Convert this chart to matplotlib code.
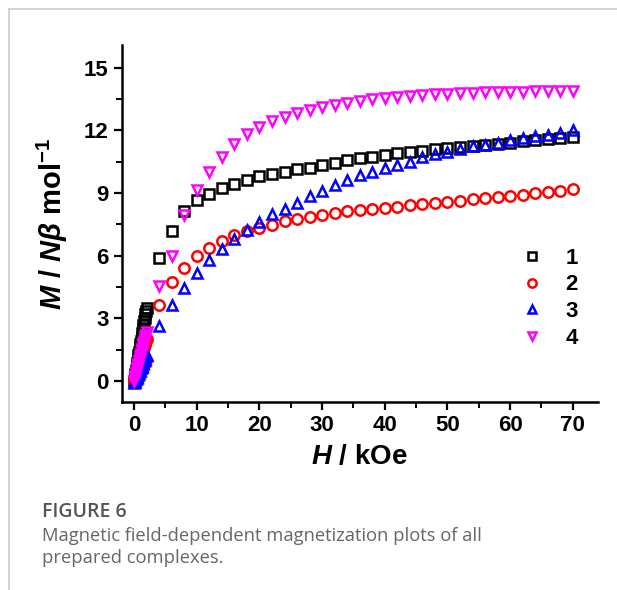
import matplotlib.pyplot as plt
from matplotlib.ticker import MultipleLocator
from matplotlib.lines import Line2D

plt.rcParams['font.family'] = ['Liberation Sans', 'DejaVu Sans']
plt.rcParams['mathtext.fontset'] = 'custom'
plt.rcParams['mathtext.rm'] = 'Liberation Sans:bold'
plt.rcParams['mathtext.it'] = 'Liberation Sans:bold:italic'
plt.rcParams['mathtext.bf'] = 'Liberation Sans:bold'

##  field values (kOe): dense low-field part, then every 2 kOe
h_low = [0, 0.1, 0.2, 0.3, 0.4, 0.5, 0.6, 0.7, 0.8, 0.9, 1.0,
         1.1, 1.2, 1.3, 1.4, 1.5, 1.6, 1.7, 1.8, 1.9, 2.0]
h_high = [4, 6, 8, 10, 12, 14, 16, 18, 20, 22, 24, 26, 28, 30, 32, 34, 36,
          38, 40, 42, 44, 46, 48, 50, 52, 54, 56, 58, 60, 62, 64, 66, 68, 70]

m1_low = [0, 0.18, 0.35, 0.53, 0.7, 0.88, 1.05, 1.23, 1.4, 1.58, 1.75,
          1.93, 2.1, 2.3, 2.5, 2.68, 2.85, 3.03, 3.2, 3.35, 3.5]
m1_high = [5.9, 7.17, 8.12, 8.65, 8.97, 9.25, 9.45, 9.64, 9.8, 9.91, 10.0,
           10.15, 10.22, 10.35, 10.43, 10.56, 10.67, 10.75, 10.83, 10.9, 10.97,
           11.03, 11.09, 11.15, 11.2, 11.25, 11.3, 11.36, 11.42, 11.47, 11.53,
           11.58, 11.64, 11.7]

m2_low = [0, 0.1, 0.2, 0.3, 0.4, 0.5, 0.6, 0.7, 0.8, 0.9, 1.0,
          1.1, 1.2, 1.3, 1.4, 1.5, 1.6, 1.7, 1.8, 1.9, 2.0]
m2_high = [3.62, 4.72, 5.42, 5.97, 6.37, 6.72, 7.0, 7.18, 7.33, 7.49, 7.65,
           7.76, 7.85, 7.96, 8.04, 8.12, 8.18, 8.24, 8.29, 8.35, 8.41, 8.47,
           8.53, 8.58, 8.64, 8.7, 8.76, 8.82, 8.87, 8.93, 8.99, 9.05, 9.11, 9.17]

m3_low = [-0.1, -0.04, 0.02, 0.08, 0.14, 0.2, 0.27, 0.33, 0.4, 0.46, 0.53,
          0.6, 0.66, 0.73, 0.8, 0.88, 0.95, 1.02, 1.1, 1.17, 1.25]
m3_high = [2.65, 3.66, 4.46, 5.18, 5.81, 6.33, 6.8, 7.22, 7.6, 8.01, 8.24,
           8.52, 8.84, 9.08, 9.39, 9.64, 9.87, 10.03, 10.2, 10.35, 10.51,
           10.72, 10.88, 10.99, 11.1, 11.23, 11.31, 11.42, 11.55, 11.63, 11.71,
           11.79, 11.9, 12.03]

m4_low = [0, 0.12, 0.25, 0.37, 0.5, 0.61, 0.72, 0.83, 0.95, 1.07, 1.2,
          1.31, 1.42, 1.53, 1.65, 1.76, 1.87, 1.98, 2.1, 2.22, 2.35]
m4_high = [4.54, 5.97, 7.96, 9.16, 10.03, 10.75, 11.36, 11.83, 12.15, 12.46,
           12.66, 12.85, 13.0, 13.14, 13.22, 13.33, 13.42, 13.5, 13.57, 13.62,
           13.66, 13.7, 13.73, 13.76, 13.78, 13.8, 13.82, 13.83, 13.85, 13.86,
           13.87, 13.88, 13.89, 13.9]

labels = ['1', '2', '3', '4']
colors = ['black', 'red', 'blue', 'magenta']
markers = ['s', 'o', '^', 'v']

fig = plt.figure(figsize=(6.17, 5.90), dpi=100)
ax = fig.add_axes([0.197, 0.319, 0.772, 0.605])

all_low = [m1_low, m2_low, m3_low, m4_low]
all_high = [m1_high, m2_high, m3_high, m4_high]
handles = []
for lo, hi, c, mk, lab in zip(all_low, all_high, colors, markers, labels):
    ax.plot(h_low + h_high, lo + hi, linestyle='none', marker=mk, markersize=7.5,
            markerfacecolor='none', markeredgecolor=c, markeredgewidth=1.8)
    handles.append(Line2D([], [], linestyle='none', marker=mk, markersize=6,
                          markerfacecolor='none', markeredgecolor=c,
                          markeredgewidth=1.8, label=lab))

ax.set_xlim(-2, 74)
ax.set_ylim(-1, 16.1)
ax.xaxis.set_major_locator(MultipleLocator(10))
ax.xaxis.set_minor_locator(MultipleLocator(5))
ax.yaxis.set_major_locator(MultipleLocator(3))
ax.yaxis.set_minor_locator(MultipleLocator(1.5))

for s in ['top', 'right']:
    ax.spines[s].set_visible(False)
for s in ['left', 'bottom']:
    ax.spines[s].set_linewidth(1.8)
ax.tick_params(which='major', direction='out', length=6, width=1.6,
               labelsize=16)
ax.tick_params(which='minor', direction='out', length=4, width=1.4)
for t in ax.get_xticklabels() + ax.get_yticklabels():
    t.set_fontweight('bold')

ax.set_xlabel(r'$H$ / kOe', fontsize=20, fontweight='bold', labelpad=6)
ax.set_ylabel(r'$M$ / $N\beta$ mol$^{\mathbf{-1}}$', fontsize=21,
              fontweight='bold', labelpad=10)

leg = ax.legend(handles=handles, loc='center right', frameon=False,
                bbox_to_anchor=(1.0, 0.29), prop={'weight': 'bold', 'size': 16},
                handletextpad=1.0, labelspacing=0.25, handlelength=1.0)

##  page frame and caption
fig.add_artist(Line2D([0.0150, 1.0], [0.984, 0.984], color='#cccccc', lw=1.2))
fig.add_artist(Line2D([0.0150, 0.0150], [0.0, 0.984], color='#cccccc', lw=1.2))
fig.text(0.068, 0.124, 'FIGURE 6', fontsize=14, color='#555555',
         family=['Open Sans', 'DejaVu Sans'], fontweight='semibold',
         va='baseline')
fig.text(0.068, 0.0836, 'Magnetic field-dependent magnetization plots of all',
         fontsize=13.2, color='#666666', family=['Open Sans', 'DejaVu Sans'],
         va='baseline')
fig.text(0.068, 0.046, 'prepared complexes.', fontsize=13.2, color='#666666',
         family=['Open Sans', 'DejaVu Sans'], va='baseline')

plt.savefig('out.png', dpi=100)
plt.close()
